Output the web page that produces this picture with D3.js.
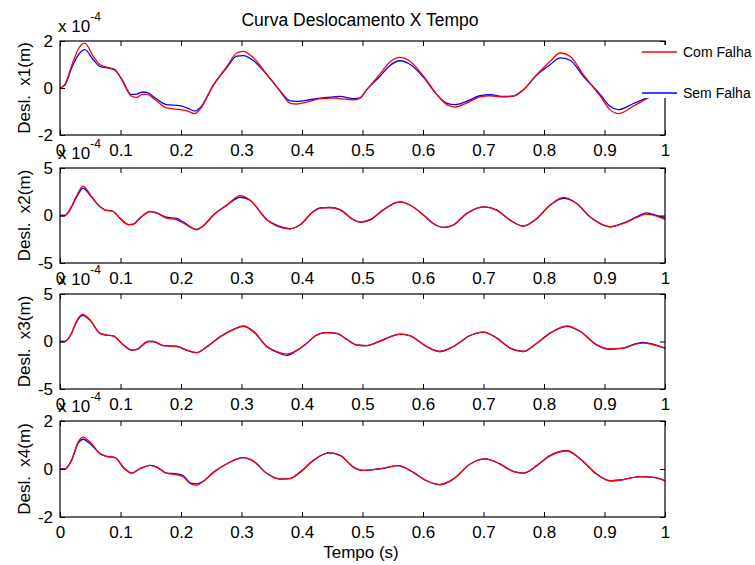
<!DOCTYPE html>
<html>
<head>
<meta charset="utf-8">
<script src="https://cdn.jsdelivr.net/npm/d3@7"></script>
<style>
  body { margin: 0; background: #fff; }
  svg { display: block; }
  text { font-family: "Liberation Sans", Arial, sans-serif; fill: #000; }
</style>
</head>
<body>
<svg id="chart" width="755" height="565"></svg>
<script>
// tempo (s) e deslocamentos (x 10^-4 m)
const t1 = [0, 0.008, 0.02, 0.03, 0.041, 0.055, 0.066, 0.083, 0.091, 0.102, 0.118, 0.127, 0.135, 0.143, 0.154, 0.176, 0.198, 0.21, 0.223, 0.231, 0.254, 0.276, 0.292, 0.303, 0.32, 0.342, 0.364, 0.38, 0.391, 0.413, 0.43, 0.452, 0.463, 0.485, 0.495, 0.507, 0.529, 0.545, 0.562, 0.579, 0.601, 0.623, 0.639, 0.653, 0.672, 0.694, 0.711, 0.733, 0.749, 0.766, 0.788, 0.81, 0.827, 0.843, 0.865, 0.893, 0.909, 0.923, 0.947, 0.969, 0.985, 1.0];
const x1Com = [0, 0.15, 1.0, 1.65, 1.91, 1.35, 1.0, 0.85, 0.78, 0.35, -0.35, -0.4, -0.28, -0.26, -0.43, -0.85, -0.92, -0.97, -1.09, -0.92, 0.14, 0.92, 1.49, 1.56, 1.28, 0.57, -0.14, -0.64, -0.68, -0.57, -0.45, -0.43, -0.45, -0.5, -0.45, -0.07, 0.6, 1.1, 1.3, 1.13, 0.5, -0.28, -0.71, -0.81, -0.64, -0.38, -0.33, -0.38, -0.35, -0.07, 0.57, 1.13, 1.49, 1.35, 0.57, -0.35, -0.92, -1.09, -0.78, -0.47, -0.25, -0.05];
const x1Sem = [0, 0.12, 0.9, 1.4, 1.63, 1.2, 0.92, 0.83, 0.76, 0.38, -0.28, -0.26, -0.18, -0.18, -0.36, -0.71, -0.75, -0.85, -0.98, -0.86, 0.14, 0.88, 1.36, 1.38, 1.16, 0.57, -0.12, -0.54, -0.57, -0.5, -0.43, -0.38, -0.36, -0.45, -0.43, -0.07, 0.5, 0.95, 1.16, 1.0, 0.45, -0.28, -0.64, -0.71, -0.57, -0.33, -0.28, -0.36, -0.35, -0.07, 0.55, 0.99, 1.28, 1.18, 0.5, -0.28, -0.78, -0.92, -0.67, -0.43, -0.22, -0.05];

const t2 = [0, 0.008, 0.016, 0.027, 0.038, 0.052, 0.066, 0.074, 0.088, 0.099, 0.113, 0.121, 0.132, 0.149, 0.16, 0.176, 0.193, 0.204, 0.226, 0.237, 0.254, 0.276, 0.298, 0.314, 0.342, 0.369, 0.38, 0.397, 0.419, 0.43, 0.446, 0.463, 0.485, 0.496, 0.512, 0.534, 0.562, 0.579, 0.601, 0.617, 0.634, 0.65, 0.672, 0.7, 0.722, 0.744, 0.766, 0.788, 0.81, 0.832, 0.854, 0.876, 0.898, 0.909, 0.931, 0.953, 0.969, 0.986, 1.0];
const x2Com = [0, 0, 0.6, 2.0, 3.1, 2.0, 0.94, 0.6, 0.42, -0.28, -0.95, -0.95, -0.28, 0.42, 0.24, -0.28, -0.45, -0.8, -1.5, -1.08, 0.07, 1.12, 2.1, 1.64, -0.45, -1.33, -1.4, -0.98, 0.42, 0.77, 0.84, 0.59, -0.45, -0.7, -0.47, 0.56, 1.43, 1.08, 0.03, -0.84, -1.26, -1.01, 0.2, 0.91, 0.56, -0.49, -1.12, -0.31, 1.08, 1.9, 1.26, -0.14, -1.01, -1.19, -0.84, -0.21, 0.14, -0.07, -0.42];
const x2Sem = [0, 0, 0.55, 1.9, 2.87, 1.95, 0.94, 0.6, 0.42, -0.28, -0.95, -0.9, -0.28, 0.4, 0.28, -0.18, -0.3, -0.7, -1.45, -1.08, 0.07, 1.1, 1.92, 1.6, -0.45, -1.25, -1.4, -0.98, 0.45, 0.8, 0.84, 0.62, -0.45, -0.7, -0.47, 0.6, 1.43, 1.08, 0.03, -0.84, -1.26, -1.0, 0.2, 0.91, 0.56, -0.49, -1.12, -0.31, 1.08, 1.8, 1.26, -0.14, -1.01, -1.19, -0.8, -0.15, 0.28, 0.0, -0.25];

const t3 = [0, 0.008, 0.019, 0.027, 0.037, 0.05, 0.066, 0.077, 0.088, 0.105, 0.118, 0.127, 0.146, 0.154, 0.171, 0.193, 0.209, 0.226, 0.243, 0.265, 0.287, 0.303, 0.32, 0.342, 0.358, 0.375, 0.391, 0.408, 0.424, 0.441, 0.457, 0.474, 0.49, 0.507, 0.529, 0.564, 0.579, 0.606, 0.628, 0.65, 0.678, 0.7, 0.722, 0.744, 0.766, 0.788, 0.81, 0.838, 0.86, 0.887, 0.909, 0.931, 0.948, 0.964, 0.981, 1.0];
const x3Com = [0, 0, 0.86, 2.1, 2.86, 2.26, 0.86, 0.68, 0.58, -0.37, -0.9, -0.82, 0, 0, -0.44, -0.54, -0.9, -1.18, -0.54, 0.51, 1.28, 1.63, 1.04, -0.54, -1.07, -1.32, -0.96, -0.19, 0.68, 0.93, 0.86, 0.23, -0.37, -0.44, 0.05, 0.77, 0.6, -0.53, -1.05, -0.53, 0.63, 0.98, 0.35, -0.7, -1.05, -0.18, 0.88, 1.65, 1.05, -0.35, -0.77, -0.7, -0.35, -0.18, -0.35, -0.7];
const x3Sem = [0, 0, 0.86, 2.0, 2.75, 2.2, 0.86, 0.68, 0.58, -0.37, -0.9, -0.82, 0, 0, -0.44, -0.5, -0.9, -1.18, -0.54, 0.51, 1.28, 1.6, 1.04, -0.54, -1.1, -1.46, -0.96, -0.19, 0.68, 0.93, 0.86, 0.23, -0.37, -0.44, 0.05, 0.77, 0.6, -0.53, -1.05, -0.53, 0.63, 0.98, 0.35, -0.7, -1.05, -0.18, 0.88, 1.6, 1.05, -0.35, -0.82, -0.7, -0.3, -0.1, -0.3, -0.7];

const t4 = [0, 0.008, 0.019, 0.03, 0.038, 0.052, 0.066, 0.077, 0.091, 0.107, 0.118, 0.132, 0.149, 0.16, 0.176, 0.193, 0.204, 0.215, 0.226, 0.237, 0.254, 0.276, 0.303, 0.32, 0.342, 0.364, 0.38, 0.397, 0.419, 0.444, 0.463, 0.485, 0.501, 0.523, 0.534, 0.559, 0.584, 0.606, 0.628, 0.65, 0.678, 0.703, 0.727, 0.749, 0.766, 0.788, 0.81, 0.838, 0.86, 0.887, 0.909, 0.931, 0.959, 0.981, 1.0];
const x4Com = [0, 0, 0.36, 1.12, 1.33, 1.06, 0.64, 0.53, 0.47, 0.01, -0.17, 0.01, 0.15, 0.08, -0.17, -0.24, -0.33, -0.61, -0.68, -0.51, -0.13, 0.22, 0.47, 0.32, -0.19, -0.42, -0.4, -0.13, 0.36, 0.67, 0.57, 0.08, -0.06, -0.01, 0.03, 0.14, -0.14, -0.49, -0.65, -0.42, 0.21, 0.42, 0.21, -0.1, -0.17, 0.14, 0.56, 0.76, 0.42, -0.21, -0.49, -0.44, -0.32, -0.35, -0.49];
const x4Sem = [0, 0, 0.36, 1.08, 1.24, 1.0, 0.64, 0.53, 0.47, 0.0, -0.17, 0.01, 0.15, 0.08, -0.17, -0.2, -0.28, -0.58, -0.62, -0.51, -0.13, 0.22, 0.47, 0.32, -0.19, -0.42, -0.4, -0.13, 0.36, 0.67, 0.57, 0.08, -0.06, -0.01, 0.03, 0.14, -0.14, -0.49, -0.65, -0.42, 0.21, 0.42, 0.21, -0.1, -0.17, 0.14, 0.56, 0.76, 0.42, -0.21, -0.49, -0.44, -0.32, -0.35, -0.49];

const xTicks = [0, 0.1, 0.2, 0.3, 0.4, 0.5, 0.6, 0.7, 0.8, 0.9, 1];
const yLabels = ["Desl.  x1(m)", "Desl.  x2(m)", "Desl.  x3(m)", "Desl.  x4(m)"];
const yRanges = [2, 5, 5, 2];
const seriesNames = ["Com Falha", "Sem Falha"];
const colors = ["#ff0000", "#0000ff"];

const panels = [
  {t: t1, com: x1Com, sem: x1Sem, top: 41, bottom: 135},
  {t: t2, com: x2Com, sem: x2Sem, top: 168, bottom: 263},
  {t: t3, com: x3Com, sem: x3Sem, top: 294, bottom: 389},
  {t: t4, com: x4Com, sem: x4Sem, top: 421, bottom: 517}
];

const svg = d3.select("#chart");
const left = 60, right = 665;
const FS = 17;

const x = d3.scaleLinear().domain([0, 1]).range([left, right]);
const fmt = d => String(d);   // 0, 0.1 ... 1 e -2, 0, 2 com hifen simples

panels.forEach((p, i) => {
  const r = yRanges[i];
  const y = d3.scaleLinear().domain([-r, r]).range([p.bottom, p.top]);
  const g = svg.append("g");

  const line = d3.line()
    .x((d, k) => x(p.t[k]))
    .y(d => y(d))
    .curve(d3.curveMonotoneX);

  g.append("path").datum(p.sem)
    .attr("fill", "none").attr("stroke", colors[1]).attr("stroke-width", 1.3)
    .attr("d", line);
  g.append("path").datum(p.com)
    .attr("fill", "none").attr("stroke", colors[0]).attr("stroke-width", 1.3)
    .attr("d", line);

  // eixos com marcas para dentro
  const xb = g.append("g").attr("transform", `translate(0,${p.bottom})`)
    .call(d3.axisBottom(x).tickValues(xTicks).tickSize(-5).tickFormat(fmt));
  xb.selectAll("text").attr("y", 21).attr("dy", null).style("font-size", FS + "px");
  g.append("g").attr("transform", `translate(0,${p.top})`)
    .call(d3.axisTop(x).tickValues(xTicks).tickSize(-5).tickFormat(""));
  const yl = g.append("g").attr("transform", `translate(${left},0)`)
    .call(d3.axisLeft(y).tickValues([-r, 0, r]).tickSize(-5).tickPadding(7).tickFormat(fmt));
  yl.selectAll("text").style("font-size", FS + "px");
  g.append("g").attr("transform", `translate(${right},0)`)
    .call(d3.axisRight(y).tickValues([-r, 0, r]).tickSize(-5).tickFormat(""));
  g.selectAll(".domain").remove();
  g.selectAll(".tick line").attr("stroke", "#000");
  g.selectAll(".tick text").attr("fill", "#000").style("font-family", "Liberation Sans, Arial, sans-serif");

  g.append("rect")
    .attr("x", left).attr("y", p.top)
    .attr("width", right - left).attr("height", p.bottom - p.top)
    .attr("fill", "none").attr("stroke", "#000").attr("stroke-width", 1.2);

  // fator de escala
  const sc = g.append("text").attr("x", 58).attr("y", p.top - 9)
    .style("font-size", FS + "px").text("x 10");
  sc.append("tspan").attr("dy", -11).style("font-size", "12px").text("-4");

  g.append("text")
    .attr("transform", `translate(30,${(p.top + p.bottom) / 2}) rotate(-90)`)
    .attr("text-anchor", "middle")
    .style("font-size", FS + "px").style("white-space", "pre")
    .text(yLabels[i]);
});

svg.append("text").attr("x", 360).attr("y", 26).attr("text-anchor", "middle")
  .style("font-size", "17.5px").text("Curva Deslocamento X Tempo");
svg.append("text").attr("x", 361).attr("y", 558).attr("text-anchor", "middle")
  .style("font-size", FS + "px").text("Tempo (s)");

// legenda (fundo branco sem borda)
const leg = svg.append("g");
leg.append("rect").attr("x", 640).attr("y", 45).attr("width", 115).attr("height", 53).attr("fill", "#fff");
[52, 93].forEach((ly, k) => {
  leg.append("line").attr("x1", 642).attr("x2", 677).attr("y1", ly).attr("y2", ly)
    .attr("stroke", colors[k]).attr("stroke-width", 1.3);
  leg.append("text").attr("x", 683).attr("y", ly + 5)
    .style("font-size", "14px").text(seriesNames[k]);
});
</script>
</body>
</html>
